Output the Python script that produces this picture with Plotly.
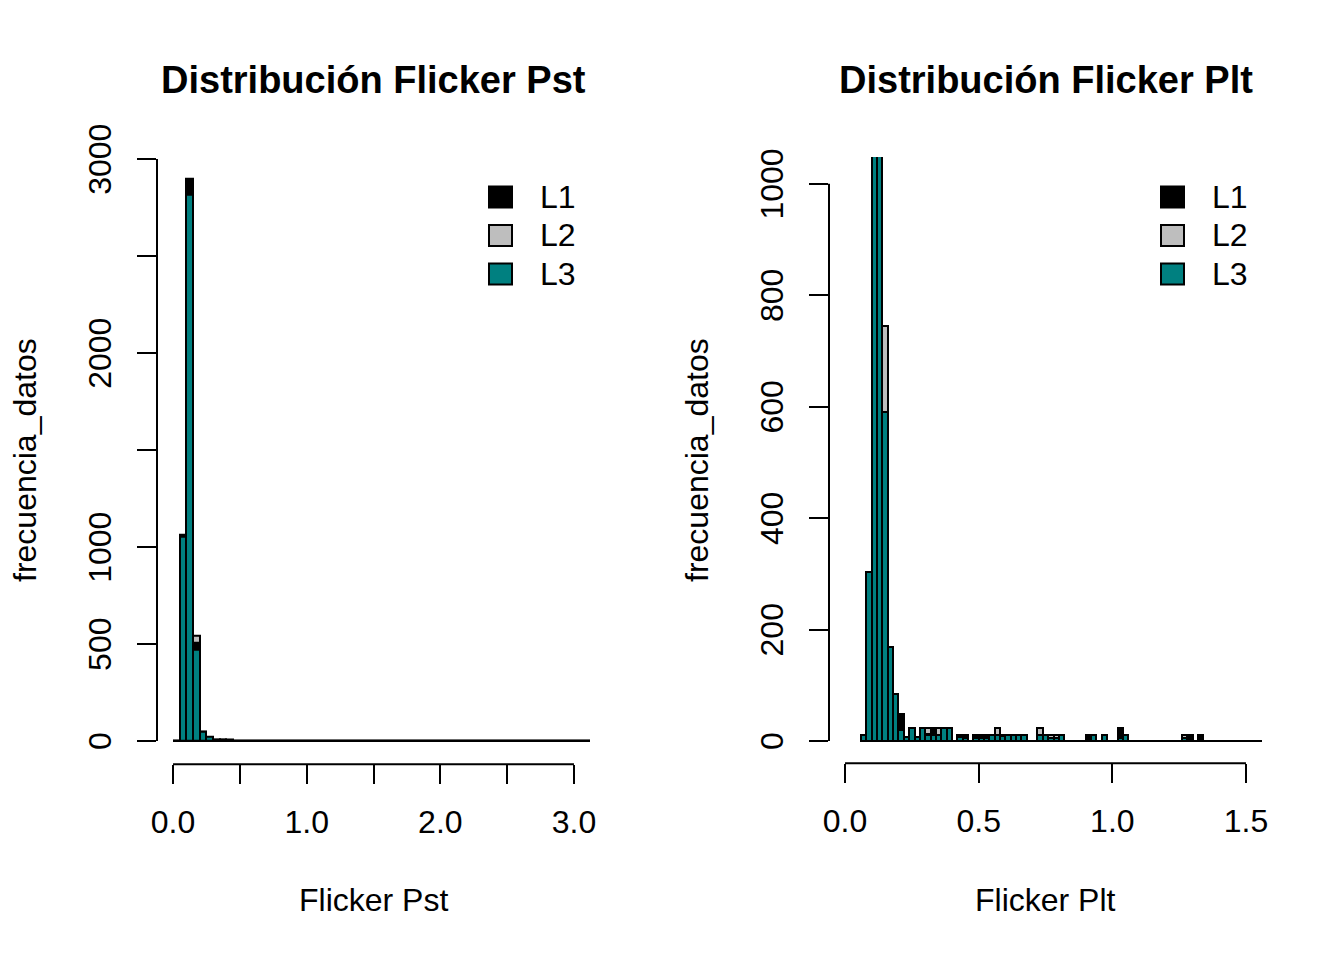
import numpy as np
import plotly.graph_objects as go

# ---------------- data ----------------
series_names = ["L1", "L2", "L3"]
series_colors = {"L1": "#000000", "L2": "#BEBEBE", "L3": "#008080"}

# Flicker Pst histogram: bins of 0.05 starting at 0.00
pst_start = 0.0
pst_step = 0.05
pst_L1 = [0, 1065, 2900, 505, 50, 18, 6, 6, 5, 0, 0, 0, 0, 0, 4] + [0] * 48
pst_L2 = [0, 1058, 2890, 541, 48, 16, 5, 5, 4, 0, 0, 0, 0, 0, 3] + [0] * 48
pst_L3 = [0, 1055, 2814, 469, 50, 20, 8, 7, 6, 0, 0, 0, 0, 0, 3] + [0] * 48

# Flicker Plt histogram: bins of 0.02 starting at 0.06
plt_start = 0.06
plt_step = 0.02
plt_L1 = [10, 300, 1600, 1500, 580, 165, 84, 48, 8, 22, 8, 23, 12, 23, 10, 22, 22, 0,
          10, 8, 0, 8, 10, 8, 10, 10, 11, 10, 10, 10, 10, 0, 0, 10, 10, 5, 5, 10,
          0, 0, 0, 0, 10, 10, 0, 10, 0, 0, 24, 10] + [0] * 10 + [5, 11, 0, 11] + [0] * 11
plt_L2 = [10, 302, 1620, 1480, 745, 166, 83, 36, 7, 21, 7, 22, 23, 20, 23, 21, 21, 0,
          9, 10, 0, 10, 8, 10, 9, 24, 10, 10, 10, 10, 10, 0, 0, 24, 10, 11, 11, 10,
          0, 0, 0, 0, 5, 10, 0, 10, 0, 0, 10, 10] + [0] * 10 + [11, 5, 0, 0] + [0] * 11
plt_L3 = [11, 303, 1650, 1450, 590, 168, 85, 20, 8, 23, 8, 23, 10, 10, 10, 23, 23, 0,
          8, 5, 0, 5, 5, 5, 10, 10, 9, 11, 11, 11, 11, 0, 0, 11, 11, 5, 5, 11,
          0, 0, 0, 0, 0, 11, 0, 11, 0, 0, 5, 11] + [0] * 10 + [5, 0, 0, 0] + [0] * 11

pst_xticks = [0, 0.5, 1.0, 1.5, 2.0, 2.5, 3.0]
pst_xtext = ["0.0", "", "1.0", "", "2.0", "", "3.0"]
pst_yticks = [0, 500, 1000, 1500, 2000, 2500, 3000]
pst_ytext = ["0", "500", "1000", "", "2000", "", "3000"]
plt_xticks = [0, 0.5, 1.0, 1.5]
plt_xtext = ["0.0", "0.5", "1.0", "1.5"]
plt_yticks = [0, 200, 400, 600, 800, 1000]
plt_ytext = ["0", "200", "400", "600", "800", "1000"]

titles = ["Distribución Flicker Pst", "Distribución Flicker Plt"]
xlabels = ["Flicker Pst", "Flicker Plt"]
ylabel = "frecuencia_datos"

# ---------------- figure ----------------
W, H = 1344, 960
OFF = 8  # page body margin: figure is drawn 8px right/down in the window
FONT = "Liberation Sans, Arial, Helvetica, sans-serif"


def PX(x):
    return (x - OFF) / W


def PY(y):
    return 1 - (y - OFF) / H


fig = go.Figure()

panels = [
    dict(start=pst_start, step=pst_step, data={"L1": pst_L1, "L2": pst_L2, "L3": pst_L3},
         xax="x", yax="y", xlim=(0, 3),
         px=(157, 590), py=(135.7, 764.3), yr=(-120, 3120),
         xt=pst_xticks, xtt=pst_xtext, yt=pst_yticks, ytt=pst_ytext),
    dict(start=plt_start, step=plt_step, data={"L1": plt_L1, "L2": plt_L2, "L3": plt_L3},
         xax="x2", yax="y2", xlim=(0, 1.5),
         px=(829, 1262), py=(157, 763.3), yr=(-40, 1048),
         xt=plt_xticks, xtt=plt_xtext, yt=plt_yticks, ytt=plt_ytext),
]

shapes = []
annotations = []
for i, p in enumerate(panels):
    n = len(p["data"]["L1"])
    edges = p["start"] + p["step"] * np.arange(n + 1)
    centers = (edges[:-1] + edges[1:]) / 2
    # drawn L2 first, then L1, then L3 on top (as in the reference)
    for name in ["L2", "L1", "L3"]:
        fig.add_trace(go.Bar(
            x=centers, y=p["data"][name], width=p["step"], name=name,
            marker=dict(color=series_colors[name], line=dict(color="black", width=2)),
            xaxis=p["xax"], yaxis=p["yax"], showlegend=False, hoverinfo="x+y+name"))
    x0, x1 = p["xlim"]
    xspan = x1 - x0
    xr = (x0 - 0.04 * xspan, x1 + 0.04 * xspan)
    sfx = "" if i == 0 else "2"
    axis_common = dict(showgrid=False, zeroline=False, showline=False, ticks="outside",
                       ticklen=19, tickwidth=2, tickcolor="black", automargin=False,
                       tickfont=dict(family=FONT, size=32, color="black"))
    fig.update_layout(**{
        "xaxis" + sfx: dict(domain=[PX(p["px"][0]), PX(p["px"][1])], range=list(xr),
                            tickmode="array", tickvals=p["xt"], ticktext=p["xtt"],
                            anchor="y" + sfx, ticklabelstandoff=10, **axis_common),
        "yaxis" + sfx: dict(domain=[PY(p["py"][1]), PY(p["py"][0])], range=list(p["yr"]),
                            tickmode="array", tickvals=p["yt"], ticktext=p["ytt"],
                            tickangle=-90, anchor="x" + sfx, ticklabelstandoff=13,
                            ticklabelshift=5, **axis_common),
    })
    # axis lines spanning the tick range only (like R)
    shapes.append(dict(type="line", xref=p["xax"], yref=p["yax"] + " domain",
                       x0=p["xt"][0], x1=p["xt"][-1], y0=0, y1=0,
                       line=dict(color="black", width=2)))
    shapes.append(dict(type="line", xref=p["xax"] + " domain", yref=p["yax"],
                       x0=0, x1=0, y0=p["yt"][0], y1=p["yt"][-1],
                       line=dict(color="black", width=2)))
    # baseline of the histogram (zero-height bins drawn as a line)
    shapes.append(dict(type="line", xref=p["xax"], yref=p["yax"],
                       x0=edges[0], x1=min(edges[-1], xr[1]), y0=0, y1=0,
                       line=dict(color="black", width=2), layer="below"))
    cx = PX((p["px"][0] + p["px"][1]) / 2)
    annotations.append(dict(text="<b>" + titles[i] + "</b>", x=cx, y=PY(80),
                            xref="paper", yref="paper", showarrow=False,
                            xanchor="center", yanchor="middle",
                            font=dict(family=FONT, size=38, color="black")))
    annotations.append(dict(text=xlabels[i], x=cx, y=PY(900),
                            xref="paper", yref="paper", showarrow=False,
                            xanchor="center", yanchor="middle",
                            font=dict(family=FONT, size=32, color="black")))
    ylx = 25 if i == 0 else 697
    annotations.append(dict(text=ylabel, x=PX(ylx), y=PY(460), textangle=-90,
                            xref="paper", yref="paper", showarrow=False,
                            xanchor="center", yanchor="middle",
                            font=dict(family=FONT, size=32, color="black")))
    # legend (top right, no box)
    bx = 489 if i == 0 else 1161
    for j, name in enumerate(series_names):
        yc = 197 + 38.5 * j
        shapes.append(dict(type="rect", xref="paper", yref="paper",
                           x0=PX(bx), x1=PX(bx + 23),
                           y0=PY(yc + 10.5), y1=PY(yc - 10.5),
                           fillcolor=series_colors[name], line=dict(color="black", width=2)))
        annotations.append(dict(text=name, x=PX(bx + 49), y=PY(yc),
                                xref="paper", yref="paper", showarrow=False,
                                xanchor="left", yanchor="middle",
                                font=dict(family=FONT, size=32, color="black")))

fig.update_layout(width=W, height=H, margin=dict(l=0, r=0, t=0, b=0, autoexpand=False),
                  paper_bgcolor="white", plot_bgcolor="white",
                  barmode="overlay", bargap=0, showlegend=False,
                  shapes=shapes, annotations=annotations,
                  font=dict(family=FONT, size=32, color="black"))

fig.write_html("out.html")
